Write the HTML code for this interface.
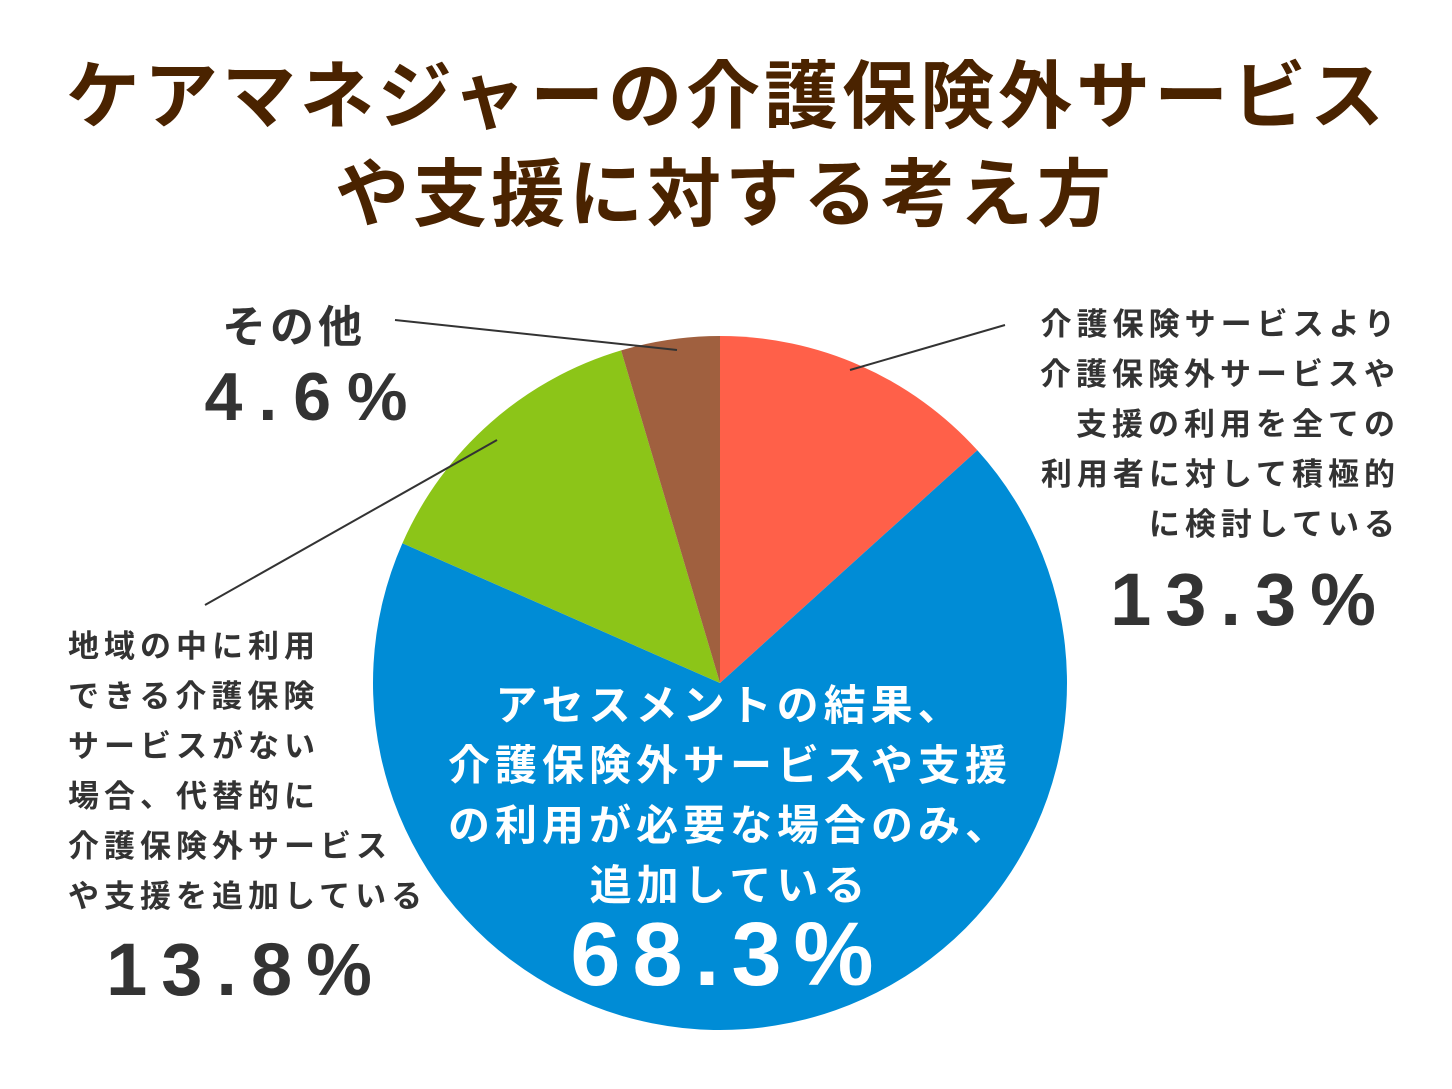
<!DOCTYPE html>
<html><head><meta charset="utf-8">
<style>
html,body{margin:0;padding:0;background:#fff;}
svg{display:block;font-family:"Liberation Sans","Noto Sans CJK JP",sans-serif;font-weight:bold;}
</style></head>
<body>
<svg id="chart" width="1452" height="1089" viewBox="0 0 1452 1089" xmlns="http://www.w3.org/2000/svg">
<rect width="1452" height="1089" fill="#fff"/>
<g fill="#4a2300" font-size="74" text-anchor="middle" letter-spacing="4">
<text x="727" y="122">ケアマネジャーの介護保険外サービス</text>
<text x="725" y="220">や支援に対する考え方</text>
</g>
<g id="slices"></g>
<g stroke="#333" stroke-width="2">
<line x1="395" y1="320" x2="677" y2="350"/>
<line x1="1005" y1="325" x2="850" y2="370"/>
<line x1="205" y1="605" x2="497" y2="440"/>
</g>
<g fill="#333" font-size="31" text-anchor="end" letter-spacing="5">
<text x="1400" y="335">介護保険サービスより</text>
<text x="1400" y="385">介護保険外サービスや</text>
<text x="1400" y="435">支援の利用を全ての</text>
<text x="1400" y="485">利用者に対して積極的</text>
<text x="1400" y="535">に検討している</text>
<text x="1250" y="625" font-size="74" text-anchor="middle" letter-spacing="14">13.3%</text>
</g>
<g fill="#333" font-size="31" letter-spacing="5">
<text x="68" y="657">地域の中に利用</text>
<text x="68" y="707">できる介護保険</text>
<text x="68" y="757">サービスがない</text>
<text x="68" y="807">場合、代替的に</text>
<text x="68" y="857">介護保険外サービス</text>
<text x="68" y="907">や支援を追加している</text>
<text x="246" y="995" font-size="74" text-anchor="middle" letter-spacing="14">13.8%</text>
</g>
<g fill="#333" text-anchor="middle">
<text x="294" y="342" font-size="44" letter-spacing="4">その他</text>
<text x="314" y="420" font-size="68" letter-spacing="16">4.6%</text>
</g>
<g fill="#fff" font-size="42" text-anchor="middle" letter-spacing="5">
<text x="730" y="720">アセスメントの結果、</text>
<text x="730" y="780">介護保険外サービスや支援</text>
<text x="730" y="840">の利用が必要な場合のみ、</text>
<text x="730" y="900">追加している</text>
<text x="728" y="985" font-size="90" letter-spacing="12">68.3%</text>
</g>
<script>
const categories = ["promote-all","as-needed","substitute","other"];
const values = [13.3, 68.3, 13.8, 4.6];
const colors = ["#ff6049","#008cd6","#8cc518","#a0603f"];
const cx = 720, cy = 683, r = 347;
const g = document.getElementById('slices');
const total = values.reduce((a,b)=>a+b,0);
function pt(frac){const a=frac*2*Math.PI;return [cx+r*Math.sin(a), cy-r*Math.cos(a)];}
let acc = 0;
values.forEach((v,i)=>{
  const s=acc/total, e=(acc+v)/total; acc+=v;
  const [x1,y1]=pt(s),[x2,y2]=pt(e);
  const large=(e-s)>0.5?1:0;
  const p=document.createElementNS('http://www.w3.org/2000/svg','path');
  p.setAttribute('d',`M${cx},${cy}L${x1},${y1}A${r},${r} 0 ${large} 1 ${x2},${y2}Z`);
  p.setAttribute('fill',colors[i]);
  
  
  g.appendChild(p);
});
</script>
</svg>
</body></html>
